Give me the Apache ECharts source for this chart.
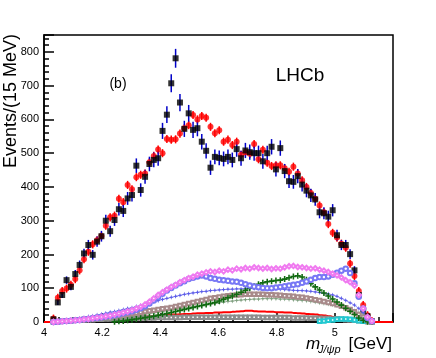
<!DOCTYPE html>
<html><head><meta charset="utf-8">
<script src="https://cdn.jsdelivr.net/npm/echarts@6/dist/echarts.min.js"></script>
<style>html,body{margin:0;padding:0;background:#fff}#c{width:436px;height:358px}</style>
</head><body><div id="c"></div>
<script>
// Axis setup
const xMin = 4.0, xMax = 5.2, xStep = 0.2;
const yMax = 850, yStep = 100, yMinorStep = 20;
const xTickLabels = [4, 4.2, 4.4, 4.6, 4.8, 5];
const yTickLabels = [0, 100, 200, 300, 400, 500, 600, 700, 800];
// Binning: 15 MeV bins
const binLow = 4.025, binWidth = 0.015;

// Data (black squares), events per bin
const dataCounts = [8,58,80,124,104,142,169,203,228,199,238,254,300,269,302,334,329,366,376,463,
  391,430,468,480,485,566,614,707,781,650,572,618,569,574,534,507,457,489,486,483,
  489,480,512,485,508,503,500,500,476,500,519,452,515,447,417,415,432,407,389,375,
  363,325,322,312,331,257,228,228,201,153,80,34,17,2];
// Fit (red circles)
const fitValues = [10,72,92,99,110,127,153,186,208,230,242,255,285,310,315,365,355,406,393,429,
  436,440,473,492,511,500,542,540,541,558,574,583,613,600,610,605,578,559,568,534,
  540,524,534,495,503,498,527,482,510,472,462,464,464,455,445,460,440,420,400,382,
  365,345,325,290,264,250,232,220,173,136,92,50,20,3];
// Components
const compMagenta = [0,1,2,3,4,5,6,8,9,11,13,15,17,19,22,25,28,31,35,40,
  45,52,60,70,80,88,96,104,110,118,124,130,134,140,143,147,150,148,152,150,
  155,153,158,156,160,158,162,160,158,160,157,159,158,162,165,166,163,162,160,158,
  159,155,152,148,143,138,132,124,118,108,80,40,15,3];
const compBlueCircles = [0,1,2,3,4,5,6,8,9,11,12,14,16,18,20,23,26,29,32,36,
  41,47,55,64,74,84,93,101,108,115,121,127,131,135,138,135,130,128,125,124,
  122,120,119,116,112,108,105,103,101,100,100,102,104,106,108,110,112,116,120,125,
  130,133,133,135,140,146,152,158,145,115,75,40,12,2];
const compBlueStars = [0,2,3,5,7,9,11,13,16,18,21,23,26,29,31,34,37,40,42,46,
  49,52,56,60,63,67,70,73,76,79,82,84,86,88,90,91,93,94,95,96,
  97,97,98,98,99,99,99,99,99,99,98,98,97,96,95,94,93,93,92,91,
  89,87,85,83,80,76,70,64,57,50,40,28,12,3];
const compBrownSquares = [0,1,2,3,4,5,6,8,9,10,12,13,15,16,18,19,21,23,25,27,
  29,31,33,35,37,39,41,43,46,49,52,55,58,61,64,67,70,72,74,76,
  78,79,80,81,82,82,82,82,82,81,81,80,79,78,77,76,74,73,71,69,
  66,64,61,58,55,51,47,42,37,30,22,14,6,1];
const compGreyGreenStars = [0,1,1,2,3,4,5,6,7,8,9,10,11,12,13,14,15,17,18,20,
  21,23,25,27,29,31,33,35,37,39,41,43,45,47,49,51,53,55,57,59,
  61,62,64,65,66,67,68,68,69,69,69,69,68,68,67,66,65,64,63,61,
  59,57,55,53,51,48,45,42,38,33,27,20,11,2];
const compGreenCrosses = [null,null,null,null,null,null,null,null,null,null,null,null,null,null,1,2,3,5,7,9,
  11,13,15,17,20,22,25,28,31,34,37,40,43,46,49,52,55,58,62,67,
  72,77,82,88,94,100,106,112,116,119,121,123,124,127,131,135,137,133,125,114,
  104,95,86,77,68,59,50,41,32,22,12,5,1,0];
const compBackground = [0,1,1,2,3,3,4,5,6,7,7,8,9,10,11,12,13,14,14,15,
  16,17,18,18,19,20,21,22,22,23,24,24,25,26,26,27,27,28,28,29,
  29,30,31,32,33,33,32,31,31,30,30,29,29,28,28,27,26,25,24,23,
  22,20,19,17,15,13,11,9,7,5,3,2,1,0];
const compGreySquares = [0,1,2,3,4,5,5,6,7,7,8,8,9,9,10,10,10,11,11,11,
  12,12,12,12,13,13,13,13,13,13,14,14,14,14,14,14,14,14,14,14,
  14,14,14,14,14,14,14,14,13,13,13,13,13,13,13,12,12,12,12,11,
  11,11,10,10,9,9,8,7,6,5,4,3,1,0];
const compCyan = [null,null,null,null,null,null,null,null,null,null,null,null,null,null,null,null,null,null,null,null,
  null,null,null,null,null,null,null,null,null,null,null,null,null,null,null,null,null,null,null,null,
  null,null,null,null,null,null,null,null,null,null,null,null,null,null,null,null,null,null,null,null,
  null,2,3,5,6,8,9,9,8,6,4,2,null,null];

const centers = dataCounts.map((_, i) => binLow + binWidth * (i + 0.5));
const pairs = arr => arr.map((v, i) => [centers[i], v == null ? '-' : v]);

const FONT = '"Liberation Sans", Arial, Helvetica, sans-serif';
const starPath = 'path://M0,-10L2.5,-2.5L10,0L2.5,2.5L0,10L-2.5,2.5L-10,0L-2.5,-2.5Z';
const plusPath = 'path://M-10,-2.6H-2.6V-10H2.6V-2.6H10V2.6H2.6V10H-2.6V2.6H-10Z';

function errBar(color, width) {
  return function (params, api) {
    const x = api.value(0), y = api.value(1), e = api.value(2);
    const p1 = api.coord([x, y + e]);
    const p2 = api.coord([x, Math.max(0, y - e)]);
    return { type: 'line', shape: { x1: p1[0], y1: p1[1], x2: p2[0], y2: p2[1] },
      style: { stroke: color, lineWidth: width } };
  };
}
const fitBarHalf = 12;

function comp(name, arr, symbol, size, color, lineW, bw, lineOpacity) {
  return {
    name, type: 'line', data: pairs(arr), symbol, symbolSize: size, showSymbol: true,
    connectNulls: false,
    itemStyle: { color: color, borderColor: color, borderWidth: bw == null ? 0.8 : bw },
    lineStyle: { width: lineW || 0, color: color, opacity: lineW ? (lineOpacity || 0.5) : 0 },
    silent: true
  };
}

const chart = echarts.init(document.getElementById('c'), null, { renderer: 'canvas' });
chart.setOption({
  animation: false,
  backgroundColor: '#fff',
  grid: { left: 44, top: 35, width: 349, height: 287, show: true, borderColor: '#000', borderWidth: 1.5, backgroundColor: 'transparent' },
  xAxis: {
    type: 'value', min: xMin, max: xMax, interval: xStep,
    axisLine: { show: true, lineStyle: { color: '#000', width: 1.5 } },
    axisTick: { show: true, inside: true, length: 9, lineStyle: { color: '#000', width: 1.5 } },
    minorTick: { show: true, splitNumber: 4, length: 5, lineStyle: { color: '#000', width: 1.5 } },
    splitLine: { show: false },
    axisLabel: { margin: 5, color: '#000', fontSize: 11, fontFamily: FONT,
      formatter: v => xTickLabels.some(t => Math.abs(t - v) < 1e-6) ? String(+v.toFixed(1)) : '' }
  },
  yAxis: [{
    type: 'value', min: 0, max: yMax, interval: yStep, position: 'left',
    axisLine: { show: true, lineStyle: { color: '#000', width: 1.5 } },
    axisTick: { show: true, inside: true, length: 10, lineStyle: { color: '#000', width: 1.5 } },
    splitLine: { show: false },
    axisLabel: { margin: 5, color: '#000', fontSize: 11, fontFamily: FONT,
      formatter: v => yTickLabels.indexOf(Math.round(v)) >= 0 && Math.abs(v - Math.round(v)) < 1e-6 ? String(Math.round(v)) : '' }
  }, {
    type: 'value', min: 0, max: yMax, interval: yMinorStep, position: 'left', offset: 0,
    axisLine: { show: false },
    axisTick: { show: true, inside: true, length: 5, lineStyle: { color: '#000', width: 1.5 } },
    splitLine: { show: false },
    axisLabel: { show: false }
  }],
  series: [
    comp('grey', compGreySquares, 'emptyRect', 3.5, '#8c8c8c'),
    comp('cyan', compCyan, 'emptyRect', 3.5, '#22c8d0', 1.5),
    { name: 'bkg', type: 'line', step: 'middle', showSymbol: false, silent: true,
      data: [[xMin, 0]].concat(pairs(compBackground), [[xMax, 0]]),
      lineStyle: { color: '#ff0000', width: 2 } },
    comp('greygreen', compGreyGreenStars, starPath, 5, '#7f9f7f', 0.9, 0, 0.7),
    comp('brown', compBrownSquares, 'emptyRect', 3.5, '#a88a8a'),
    comp('bluestars', compBlueStars, starPath, 5, '#5c5ce8', 1, 0, 0.7),
    comp('green', compGreenCrosses, plusPath, 6, '#116a11', 1, 0, 0.8),
    comp('bluecircles', compBlueCircles, 'emptyCircle', 4.5, '#7878f5'),
    comp('magenta', compMagenta, 'emptyDiamond', 4.5, '#f07af0'),
    { name: 'fitbars', type: 'custom', silent: true, renderItem: errBar('#ff0000', 1.5),
      encode: { x: 0, y: 1 }, data: fitValues.map((v, i) => [centers[i], v, fitBarHalf]) },
    { name: 'fit', type: 'scatter', symbol: 'circle', symbolSize: 6, silent: true,
      itemStyle: { color: '#ff0000' }, data: pairs(fitValues) },
    { name: 'databars', type: 'custom', silent: true, renderItem: errBar('#0000c8', 1.5),
      encode: { x: 0, y: 1 }, data: dataCounts.map((v, i) => [centers[i], v, Math.sqrt(v)]) },
    { name: 'data', type: 'scatter', symbol: 'rect', symbolSize: 6, silent: true,
      itemStyle: { color: '#000' }, data: pairs(dataCounts) }
  ],
  graphic: [
    { type: 'text', x: 11, y: 101, rotation: Math.PI / 2,
      style: { text: 'Events/(15 MeV)', font: '18px ' + FONT, fill: '#000', textAlign: 'center', textVerticalAlign: 'middle' } },
    { type: 'text', x: 118, y: 84,
      style: { text: '(b)', font: '14px ' + FONT, fill: '#000', textAlign: 'center', textVerticalAlign: 'middle' } },
    { type: 'text', x: 300, y: 76,
      style: { text: 'LHCb', font: '19px ' + FONT, fill: '#000', textAlign: 'center', textVerticalAlign: 'middle' } },
    { type: 'text', x: 306, y: 344,
      style: { text: 'm', font: 'italic 17px ' + FONT, fill: '#000', textAlign: 'left', textVerticalAlign: 'middle' } },
    { type: 'text', x: 318, y: 350,
      style: { text: 'J/ψp', font: 'italic 11px ' + FONT, fill: '#000', textAlign: 'left', textVerticalAlign: 'middle' } },
    { type: 'text', x: 392, y: 344,
      style: { text: '[GeV]', font: '17px ' + FONT, fill: '#000', textAlign: 'right', textVerticalAlign: 'middle' } }
  ]
});
</script></body></html>
